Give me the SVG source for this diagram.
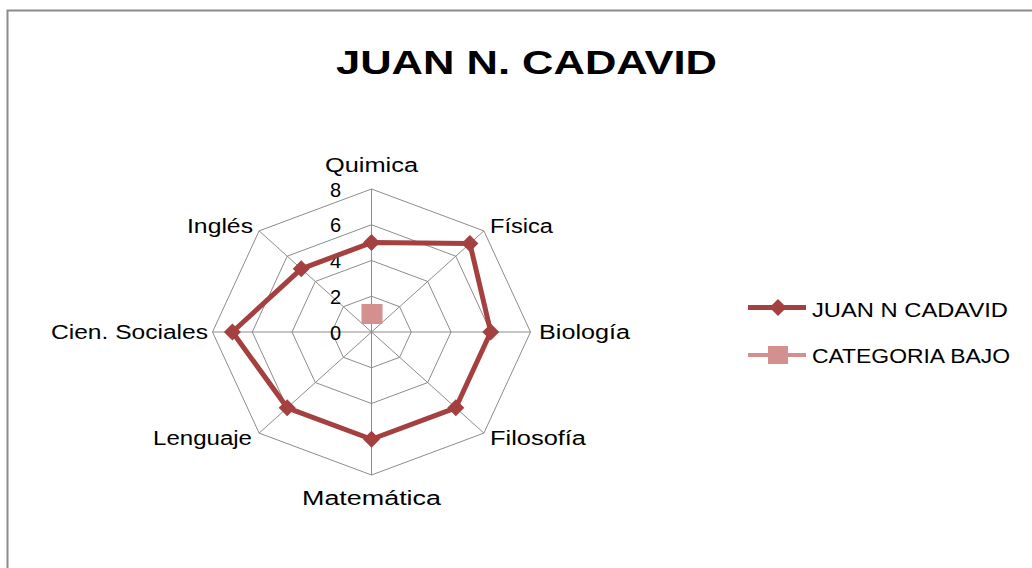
<svg xmlns="http://www.w3.org/2000/svg" width="1032" height="568" viewBox="0 0 1032 568">
<style>
.lbl{font-family:"Liberation Sans",Arial,sans-serif;font-size:20px;fill:#000}
.tick{font-family:"Liberation Sans",Arial,sans-serif;font-size:20px;fill:#000;text-anchor:end}
.title{font-family:"Liberation Sans",Arial,sans-serif;font-size:34px;font-weight:bold;fill:#000}
.grid{fill:none;stroke:#8c8c8c;stroke-width:1}
.series{fill:none;stroke:#A4403F;stroke-width:5;stroke-linejoin:round}
.dia{fill:#A4403F}
.bajo{fill:#D48F8F}
</style>
<defs>
<path id="diamond" d="M0,-8.5 L8.5,0 L0,8.5 L-8.5,0 Z"/>
</defs>
<rect x="0" y="0" width="1032" height="568" fill="#fff"/>
<path d="M7.5,568 V10.5 H1032" fill="none" stroke="#8c8c8c" stroke-width="2"/>
<g id="title"><text class="title" x="336" y="74" textLength="381" lengthAdjust="spacingAndGlyphs">JUAN N. CADAVID</text></g>
<g id="grid">
<polygon class="grid" points="371.5,189 483.9,230.9 530.5,332 483.9,433.1 371.5,475 259.1,433.1 212.5,332 259.1,230.9"/>
<polygon class="grid" points="371.5,224.75 455.8,256.2 490.75,332 455.8,407.8 371.5,439.25 287.2,407.8 252.25,332 287.2,256.2"/>
<polygon class="grid" points="371.5,260.5 427.7,281.45 451,332 427.7,382.55 371.5,403.5 315.3,382.55 292,332 315.3,281.45"/>
<polygon class="grid" points="371.5,296.25 399.6,306.7 411.25,332 399.6,357.3 371.5,367.75 343.4,357.3 331.75,332 343.4,306.7"/>
<path class="grid" d="M371.5,332 L371.5,189 M371.5,332 L483.9,230.9 M371.5,332 L530.5,332 M371.5,332 L483.9,433.1 M371.5,332 L371.5,475 M371.5,332 L259.1,433.1 M371.5,332 L212.5,332 M371.5,332 L259.1,230.9"/>
</g>
<g id="ticks">
<text class="tick" x="341" y="197">8</text>
<text class="tick" x="341" y="232">6</text>
<text class="tick" x="341" y="268">4</text>
<text class="tick" x="341" y="304">2</text>
<text class="tick" x="341" y="340">0</text>
</g>
<g id="axis-labels">
<text class="lbl" x="325" y="172" textLength="93" lengthAdjust="spacingAndGlyphs">Quimica</text>
<text class="lbl" x="490" y="233" textLength="63" lengthAdjust="spacingAndGlyphs">Física</text>
<text class="lbl" x="539" y="339" textLength="91" lengthAdjust="spacingAndGlyphs">Biología</text>
<text class="lbl" x="490" y="445" textLength="96" lengthAdjust="spacingAndGlyphs">Filosofía</text>
<text class="lbl" x="302" y="505" textLength="139" lengthAdjust="spacingAndGlyphs">Matemática</text>
<text class="lbl" x="153" y="445" textLength="99" lengthAdjust="spacingAndGlyphs">Lenguaje</text>
<text class="lbl" x="51" y="339" textLength="157" lengthAdjust="spacingAndGlyphs">Cien. Sociales</text>
<text class="lbl" x="187" y="233" textLength="66" lengthAdjust="spacingAndGlyphs">Inglés</text>
</g>
<g id="series-juan">
<polygon class="series" points="371.5,242.6 469.9,243.5 490.75,332 455.8,407.8 371.5,439.25 287.2,407.8 232.4,332 301.25,268.8"/>
<use href="#diamond" class="dia" x="371.5" y="242.6"/>
<use href="#diamond" class="dia" x="469.9" y="243.5"/>
<use href="#diamond" class="dia" x="490.75" y="332"/>
<use href="#diamond" class="dia" x="455.8" y="407.8"/>
<use href="#diamond" class="dia" x="371.5" y="439.25"/>
<use href="#diamond" class="dia" x="287.2" y="407.8"/>
<use href="#diamond" class="dia" x="232.4" y="332"/>
<use href="#diamond" class="dia" x="301.25" y="268.8"/>
</g>
<g id="series-bajo">
<rect class="bajo" x="361.5" y="304" width="21" height="20"/>
</g>
<g id="legend">
<line x1="748" y1="307.5" x2="806" y2="307.5" stroke="#A4403F" stroke-width="5"/>
<use href="#diamond" class="dia" x="778" y="307.5"/>
<text class="lbl" x="812" y="317" textLength="196" lengthAdjust="spacingAndGlyphs">JUAN N CADAVID</text>
<line x1="748" y1="355" x2="806" y2="355" stroke="#D48F8F" stroke-width="4"/>
<rect class="bajo" x="768" y="346" width="20" height="18"/>
<text class="lbl" x="812" y="363" textLength="198" lengthAdjust="spacingAndGlyphs">CATEGORIA BAJO</text>
</g>
</svg>
